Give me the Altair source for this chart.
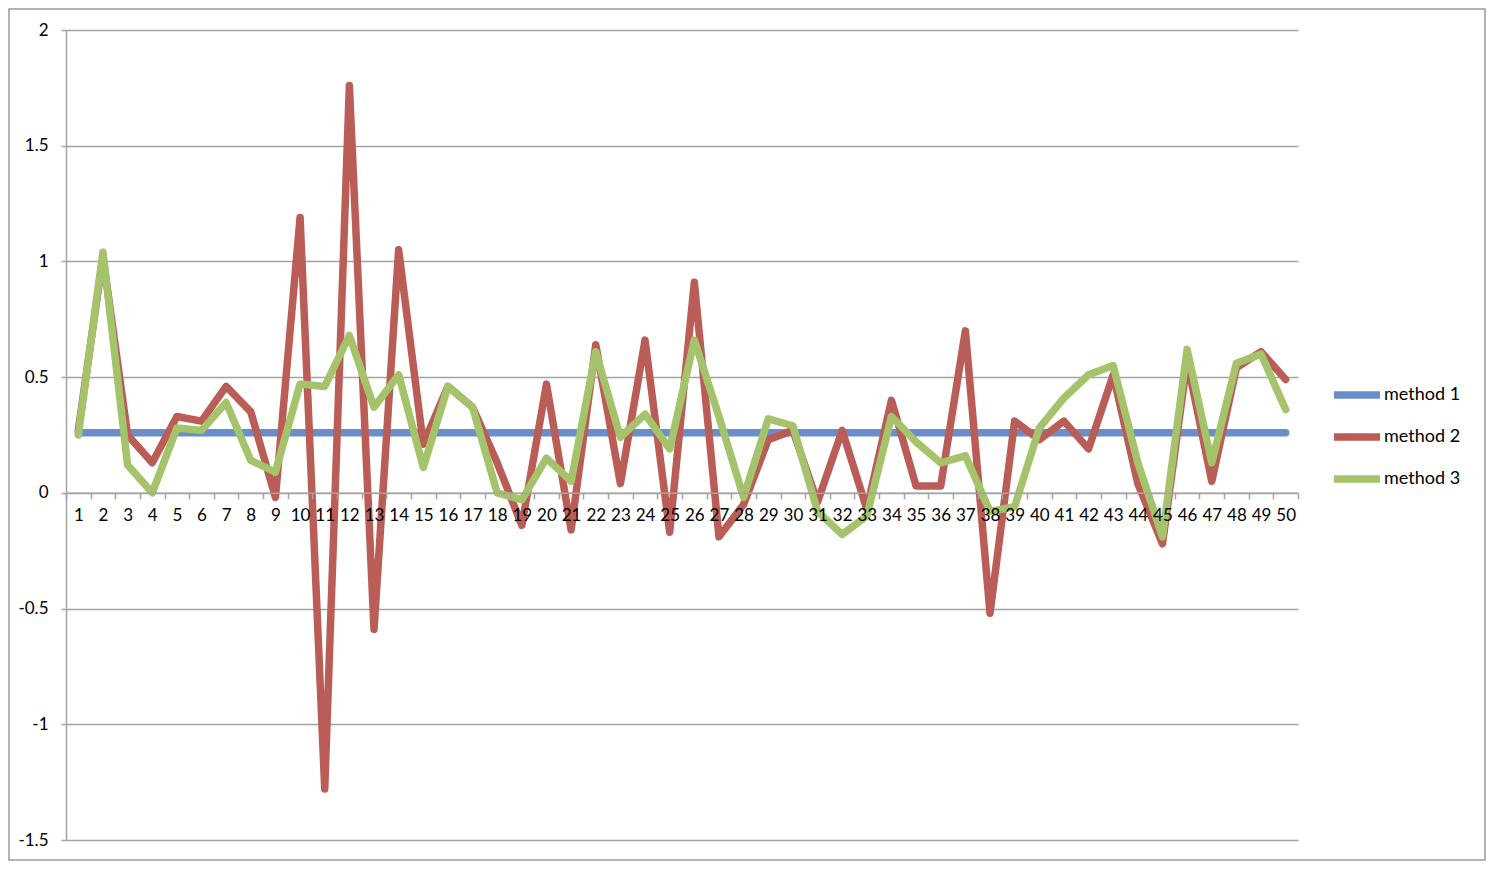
import altair as alt
import pandas as pd

x_cats = list(range(1, 51))
method1 = [0.26] * 50
method2 = [0.27, 1.02, 0.25, 0.13, 0.33, 0.31, 0.46, 0.35, -0.02, 1.19,
           -1.28, 1.76, -0.59, 1.05, 0.21, 0.46, 0.37, 0.13, -0.14, 0.47,
           -0.16, 0.64, 0.04, 0.66, -0.17, 0.91, -0.19, -0.05, 0.23, 0.27,
           -0.04, 0.27, -0.07, 0.40, 0.03, 0.03, 0.70, -0.52, 0.31, 0.23,
           0.31, 0.19, 0.51, 0.04, -0.22, 0.57, 0.05, 0.54, 0.61, 0.49]
method3 = [0.25, 1.04, 0.12, 0.00, 0.28, 0.27, 0.39, 0.14, 0.09, 0.47,
           0.46, 0.68, 0.37, 0.51, 0.11, 0.46, 0.37, 0.00, -0.03, 0.15,
           0.05, 0.61, 0.24, 0.34, 0.19, 0.66, 0.33, -0.02, 0.32, 0.29,
           -0.08, -0.18, -0.10, 0.33, 0.22, 0.13, 0.16, -0.08, -0.06, 0.28,
           0.41, 0.51, 0.55, 0.13, -0.19, 0.62, 0.13, 0.56, 0.60, 0.36]
series_names = ["method 1", "method 2", "method 3"]
series_colors = ["#6A8ECB", "#BA5D57", "#A5C36A"]
y_ticks = [-1.5, -1, -0.5, 0, 0.5, 1, 1.5, 2]

rows = []
for name, vals in zip(series_names, [method1, method2, method3]):
    for xi, v in zip(x_cats, vals):
        rows.append({"x": xi, "value": v, "series": name})
df = pd.DataFrame(rows)

W, H = 1232, 810
PAD_L, PAD_T, PAD_R, PAD_B = 58, 22, 188, 21
Y_MIN, Y_MAX = -1.5, 2.0
zero_offset = -(H - H * (Y_MAX - 0) / (Y_MAX - Y_MIN))

FONT = "Lato"
GRID = "#a3a3a3"

lines = alt.Chart(df).mark_line(strokeWidth=7.5, strokeCap="round", strokeJoin="round").encode(
    x=alt.X("x:O", bandPosition=0.5,
            scale=alt.Scale(type="band", paddingInner=0, paddingOuter=0),
            axis=alt.Axis(title=None, offset=zero_offset, tickBand="extent", labelAngle=0,
                          labelOverlap=False, grid=False, tickSize=6, labelPadding=9,
                          labelFontSize=17, labelFont=FONT, labelColor="#000000",
                          domainColor=GRID, domainWidth=1.5, tickColor=GRID, tickWidth=1.5,
                          zindex=1)),
    y=alt.Y("value:Q", scale=alt.Scale(domain=[Y_MIN, Y_MAX], nice=False, zero=False),
            axis=alt.Axis(title=None, values=y_ticks, grid=True, gridColor=GRID, gridWidth=1.5,
                          tickSize=5, tickColor=GRID, tickWidth=1.5, domainColor=GRID,
                          domainWidth=1.5, labelPadding=13, labelFontSize=17, labelFont=FONT,
                          labelColor="#000000", labelExpr="'' + datum.value")),
    color=alt.Color("series:N",
                    scale=alt.Scale(domain=series_names, range=series_colors),
                    legend=alt.Legend(title=None, orient="none", legendX=1264, legendY=338,
                                      symbolType="stroke", symbolSize=2116, symbolStrokeWidth=7.5,
                                      labelFontSize=18, labelFont=FONT, labelColor="#000000",
                                      labelOffset=0, rowPadding=-3, padding=0)),
)

frame = alt.Chart(alt.Data(values=[{}])).mark_rect(fill=None, stroke="#9a9a9a", strokeWidth=1.5).encode(
    x=alt.value(-PAD_L + 1), x2=alt.value(W + PAD_R - 1),
    y=alt.value(-PAD_T + 1), y2=alt.value(H + PAD_B - 1),
)

chart = alt.layer(frame, lines).properties(
    width=W, height=H, background="white",
    padding={"left": PAD_L, "top": PAD_T, "right": PAD_R, "bottom": PAD_B},
    autosize=alt.AutoSizeParams(type="none"),
).configure_view(stroke="transparent", strokeWidth=0)

chart.save("out.html", embed_options={"renderer": "svg", "actions": False})
